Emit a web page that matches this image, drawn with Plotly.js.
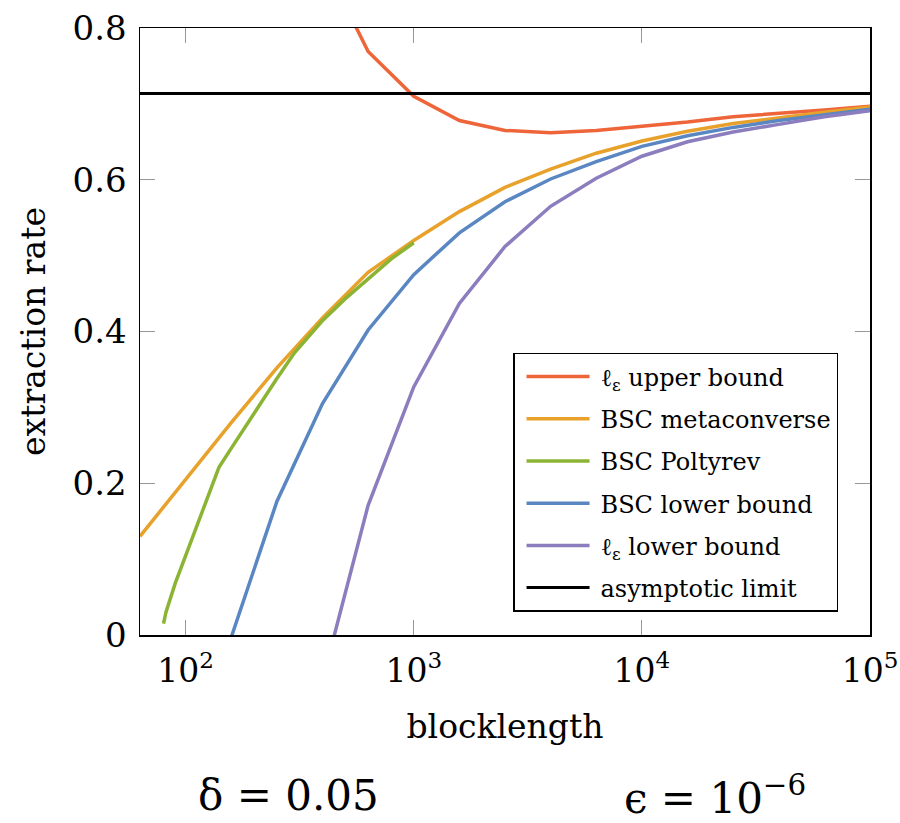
<!DOCTYPE html>
<html>
<head>
<meta charset="utf-8">
<script src="https://cdn.plot.ly/plotly-3.0.1.min.js"></script>
<style>html,body{margin:0;padding:0;background:#fff;}#chart{width:900px;height:823px;}</style>
</head>
<body>
<div id="chart"></div>
<script>
// blocklengths (0.2-decade grid)
const nGrid = [63.1, 100, 158.5, 251.2, 398.1, 631, 1000, 1585, 2512, 3981, 6310, 10000, 15849, 25119, 39811, 63096, 100000];

const upperN = [398.1, 631, 1000, 1585, 2512, 3981, 6310, 10000, 15849, 25119, 39811, 63096, 100000];
const upperRate = [0.89, 0.769, 0.710, 0.678, 0.665, 0.662, 0.665, 0.670, 0.676, 0.683, 0.687, 0.692, 0.697];

const metaN = nGrid;
const metaRate = [0.130, 0.205, 0.280, 0.352, 0.418, 0.478, 0.520, 0.558, 0.590, 0.614, 0.635, 0.651, 0.664, 0.674, 0.682, 0.689, 0.696];

const poltN = [80, 82, 90, 100, 110, 125, 140, 160, 180, 200, 250, 300, 350, 400, 500, 600, 700, 800, 1000];
const poltRate = [0.015, 0.030, 0.068, 0.105, 0.136, 0.183, 0.221, 0.248, 0.272, 0.292, 0.337, 0.372, 0.395, 0.415, 0.443, 0.464, 0.482, 0.496, 0.517];

const bscLowN = [158.5, 251.2, 398.1, 631, 1000, 1585, 2512, 3981, 6310, 10000, 15849, 25119, 39811, 63096, 100000];
const bscLowRate = [-0.003, 0.176, 0.305, 0.402, 0.475, 0.530, 0.571, 0.601, 0.624, 0.644, 0.658, 0.669, 0.678, 0.686, 0.693];

const lowN = [398.1, 631, 1000, 1585, 2512, 3981, 6310, 10000, 15849, 25119, 39811, 63096, 100000];
const lowRate = [-0.06, 0.171, 0.327, 0.437, 0.512, 0.565, 0.602, 0.631, 0.650, 0.663, 0.673, 0.683, 0.691];

const asymN = [63.1, 100000];
const asymRate = [0.7136, 0.7136];

const names = ['ℓ<sub>ε</sub> upper bound', 'BSC metaconverse', 'BSC Poltyrev', 'BSC lower bound', 'ℓ<sub>ε</sub> lower bound', 'asymptotic limit'];
const colors = ['#EF653A', '#E8A12A', '#8CB434', '#5A87C2', '#8C7DBE', '#000000'];
const xs = [upperN, metaN, poltN, bscLowN, lowN, asymN];
const ys = [upperRate, metaRate, poltRate, bscLowRate, lowRate, asymRate];

const traces = names.map((nm, i) => ({
  x: xs[i], y: ys[i], name: nm, type: 'scatter', mode: 'lines',
  line: {color: colors[i], width: i === 5 ? 3 : 3.5},
  legendgroup: 'g' + i
}));

const serif = 'DejaVu Serif, serif';
const layout = {
  width: 900, height: 823,
  margin: {l: 140, r: 30, t: 28, b: 188},
  paper_bgcolor: '#fff', plot_bgcolor: '#fff',
  font: {family: serif, color: '#000'},
  showlegend: true,
  legend: {
    x: 0.511, y: 0.4646, xanchor: 'left', yanchor: 'top',
    bgcolor: '#fff', bordercolor: '#000', borderwidth: 1.5,
    font: {family: serif, size: 24, color: '#000'},
    itemwidth: 76,
    tracegroupgap: 8
  },
  xaxis: {
    type: 'log', range: [1.8, 5],
    tickvals: [100, 1000, 10000, 100000],
    ticktext: ['10<sup>2</sup>', '10<sup>3</sup>', '10<sup>4</sup>', '10<sup>5</sup>'],
    ticks: 'inside', ticklen: 15, tickcolor: '#999', tickwidth: 1.2,
    showline: true, linecolor: '#000', linewidth: 1.5, mirror: 'ticks',
    showgrid: false, zeroline: false,
    tickfont: {family: serif, size: 33},
    ticklabelstandoff: 6,
    title: {text: 'blocklength', font: {family: serif, size: 33}, standoff: 26}
  },
  yaxis: {
    range: [0, 0.8],
    tickvals: [0, 0.2, 0.4, 0.6, 0.8],
    ticktext: ['0', '0.2', '0.4', '0.6', '0.8'],
    ticks: 'inside', ticklen: 15, tickcolor: '#999', tickwidth: 1.2,
    showline: true, linecolor: '#000', linewidth: 1.5, mirror: 'ticks',
    showgrid: false, zeroline: false,
    tickfont: {family: serif, size: 34},
    ticklabelstandoff: 5,
    title: {text: 'extraction rate', font: {family: serif, size: 33}, standoff: 17}
  },
  annotations: [
    {xref: 'paper', yref: 'paper', x: (288 - 140) / 730, y: -(795 - 635) / 607,
     text: 'δ = 0.05', showarrow: false, xanchor: 'center', yanchor: 'middle',
     font: {family: serif, size: 42, color: '#000'}},
    {xref: 'paper', yref: 'paper', x: (715 - 140) / 730, y: -(795 - 635) / 607,
     text: 'ϵ = 10<sup>−6</sup>', showarrow: false, xanchor: 'center', yanchor: 'middle',
     font: {family: serif, size: 42, color: '#000'}}
  ]
};

Plotly.newPlot('chart', traces, layout, {staticPlot: true, displayModeBar: false}).then(gd => {
  // lengthen the legend line samples to match the reference
  gd.querySelectorAll('.legend .legendlines path').forEach(p => p.setAttribute('d', 'M12,0h63'));
});
</script>
</body>
</html>
